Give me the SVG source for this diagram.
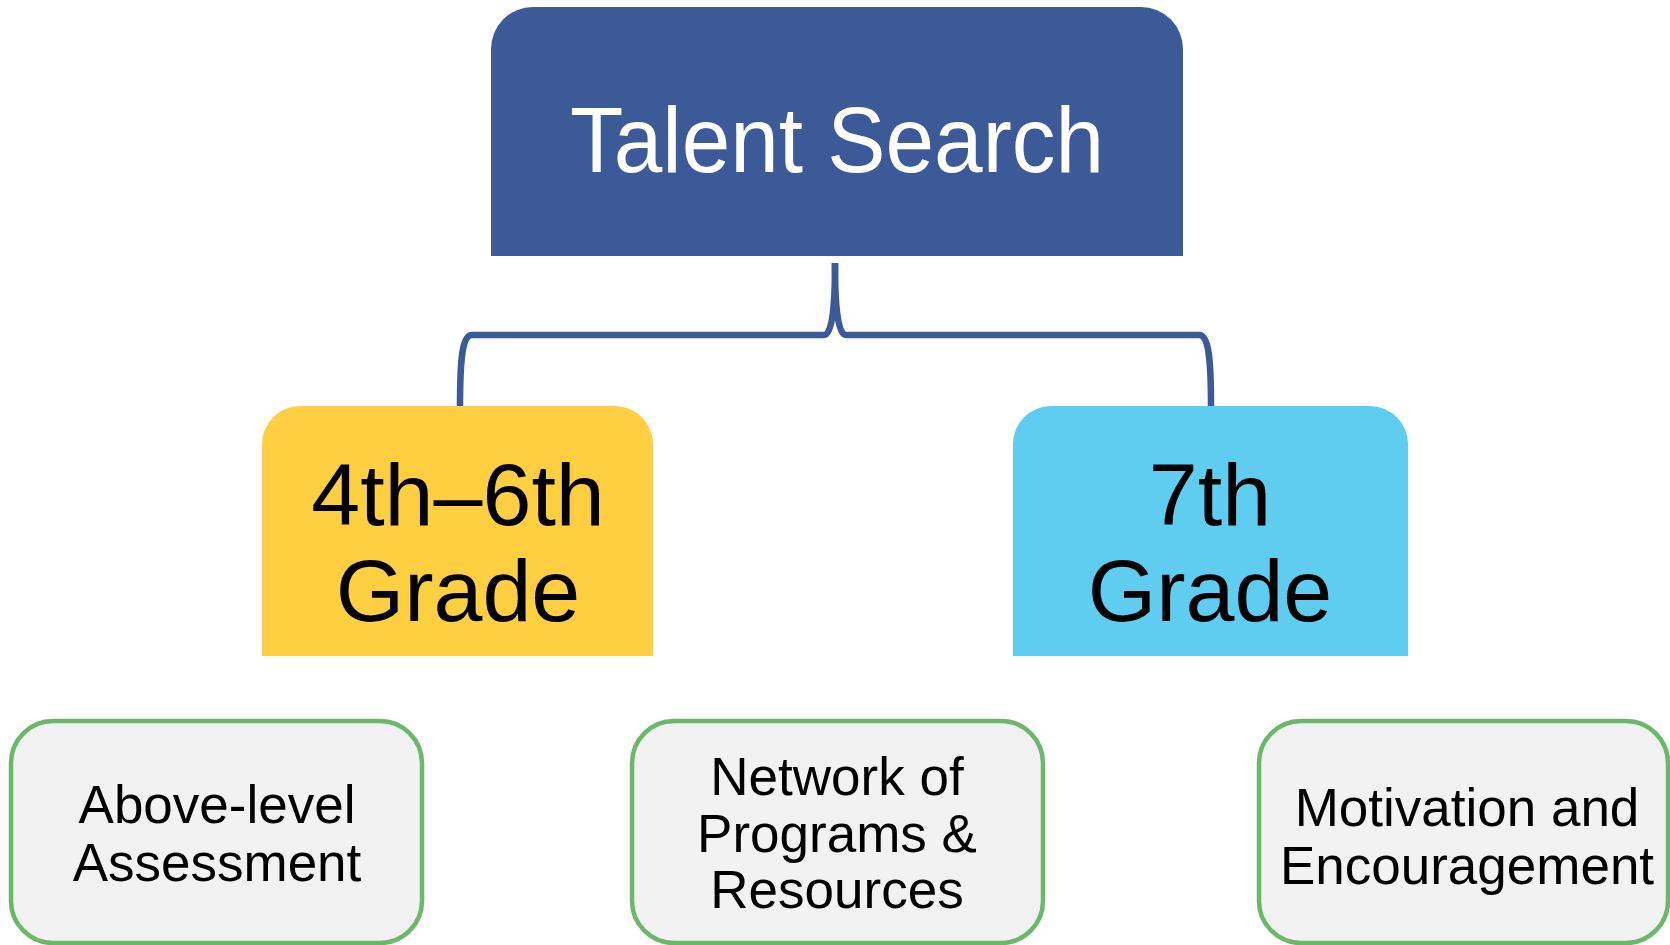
<svg xmlns="http://www.w3.org/2000/svg" width="1670" height="945" viewBox="0 0 1670 945">
<style>
text{font-family:"Liberation Sans",Arial,Helvetica,sans-serif;text-anchor:middle}
.big{font-size:88px;fill:#000}
.title{font-size:92px;fill:#fff}
.small{font-size:53px;fill:#000}
.leaf{fill:#f2f2f2;stroke:#6bb86a;stroke-width:4.5}
.conn{fill:none;stroke:#3c5a98;stroke-width:6.5}
</style>
<rect width="1670" height="945" fill="#fff"/>
<g id="connectors">
<path class="conn" d="M835 263 C835 300 833 335 824 335 L472 335 C462 335 460 360 460 406"/>
<path class="conn" d="M835 263 C835 300 837 335 846 335 L1199 335 C1209 335 1211 360 1211 406"/>
</g>
<g id="talent-search">
<path d="M491 256 V49 A42 42 0 0 1 533 7 H1141 A42 42 0 0 1 1183 49 V256 Z" fill="#3c5a98"/>
<text class="title" x="837" y="172" textLength="534" lengthAdjust="spacingAndGlyphs">Talent Search</text>
</g>
<g id="grade-4-6">
<path d="M262 656 V444 A38 38 0 0 1 300 406 H615 A38 38 0 0 1 653 444 V656 Z" fill="#fecf41"/>
<text class="big" x="458" y="525">4th–6th</text>
<text class="big" x="458" y="621">Grade</text>
</g>
<g id="grade-7">
<path d="M1013 656 V444 A38 38 0 0 1 1051 406 H1370 A38 38 0 0 1 1408 444 V656 Z" fill="#5ecdf0"/>
<text class="big" x="1210" y="525">7th</text>
<text class="big" x="1210" y="621">Grade</text>
</g>
<g id="above-level">
<rect class="leaf" x="11" y="721" width="411" height="222" rx="42"/>
<text class="small" x="217" y="823">Above-level</text>
<text class="small" x="217" y="881">Assessment</text>
</g>
<g id="network">
<rect class="leaf" x="632" y="721" width="411" height="222" rx="42"/>
<text class="small" x="837" y="795">Network of</text>
<text class="small" x="837" y="852">Programs &amp;</text>
<text class="small" x="837" y="908">Resources</text>
</g>
<g id="motivation">
<rect class="leaf" x="1259" y="721" width="409" height="222" rx="42"/>
<text class="small" x="1467" y="826">Motivation and</text>
<text class="small" x="1467" y="884">Encouragement</text>
</g>
</svg>
